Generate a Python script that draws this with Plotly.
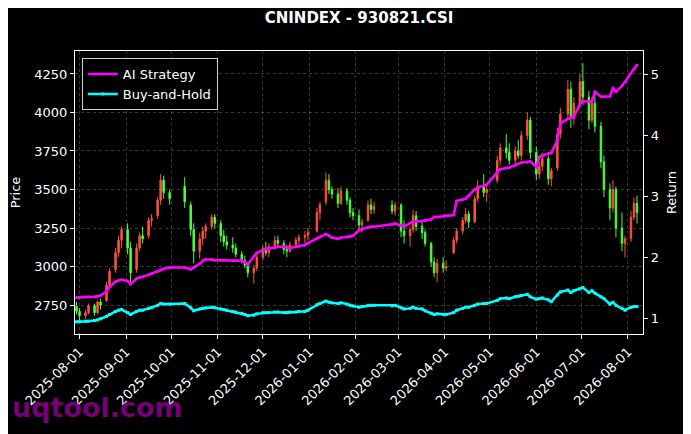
"""
Price candles with strategy / buy-and-hold return curves (CNINDEX 930821.CSI).
"""

import pandas as pd
import plotly.graph_objects as go
from plotly.subplots import make_subplots

TITLE = "CNINDEX - 930821.CSI"

# trading calendar: weekdays minus exchange holidays, every 2nd session
holidays = pd.to_datetime([
    "2025-10-01", "2025-10-02", "2025-10-03", "2025-10-06", "2025-10-07", "2025-10-08",
    "2026-01-01", "2026-01-02",
    "2026-02-16", "2026-02-17", "2026-02-18", "2026-02-19", "2026-02-20", "2026-02-23",
    "2026-04-06",
    "2026-05-01", "2026-05-04", "2026-05-05",
    "2026-06-19",
])
trade_days = pd.bdate_range("2025-07-30", "2026-08-10")
trade_days = trade_days[~trade_days.isin(holidays)]
dates = trade_days[::2]

open_px = [
    2740, 2710, 2680, 2700, 2745, 2700, 2770, 2780, 2880, 2980,
    3090, 3170, 3240, 3120, 2980, 3120, 3200, 3200, 3300, 3330,
    3430, 3560, 3480, 3520, 3400, 3240, 3100, 3180, 3230, 3260,
    3320, 3280, 3200, 3160, 3140, 3120, 3080, 3040, 3010, 2960,
    2990, 3060, 3120, 3090, 3130, 3170, 3150, 3110, 3100, 3140,
    3170, 3190, 3200, 3230, 3350, 3420, 3560, 3500, 3470, 3410,
    3490, 3430, 3350, 3330, 3270, 3300, 3400, 3370, 3400, 3360,
    3400, 3230, 3200, 3240, 3330, 3260, 3220, 3150, 3030, 2960,
    3020, 2990, 3090, 3170, 3230, 3300, 3340, 3290, 3440, 3520,
    3480, 3560, 3690, 3770, 3740, 3690, 3750, 3720, 3850, 3950,
    3740, 3600, 3650, 3700, 3570, 3640, 3860, 3990, 4150, 3960,
    4060, 4200, 4100, 3950, 4060, 3910, 3680, 3500, 3380, 3500,
    3250, 3150, 3180, 3320, 3410,
]
high_px = [
    2770, 2730, 2720, 2760, 2760, 2780, 2790, 2900, 2990, 3120,
    3200, 3260, 3280, 3160, 3150, 3220, 3260, 3320, 3340, 3450,
    3600, 3590, 3500, 3580, 3420, 3280, 3220, 3260, 3280, 3340,
    3340, 3300, 3240, 3200, 3190, 3150, 3100, 3070, 3030, 3010,
    3080, 3140, 3160, 3150, 3200, 3200, 3170, 3140, 3160, 3190,
    3210, 3230, 3250, 3380, 3420, 3610, 3600, 3520, 3510, 3520,
    3510, 3450, 3380, 3370, 3310, 3430, 3440, 3420, 3430, 3420,
    3410, 3300, 3260, 3370, 3360, 3300, 3240, 3160, 3060, 3050,
    3060, 3040, 3190, 3250, 3320, 3380, 3360, 3460, 3560, 3600,
    3540, 3720, 3800, 3860, 3800, 3780, 3820, 3880, 4000, 3970,
    3780, 3680, 3740, 3720, 3640, 3900, 4030, 4210, 4200, 4100,
    4250, 4320, 4140, 4100, 4120, 3940, 3720, 3540, 3560, 3520,
    3350, 3200, 3360, 3450, 3460,
]
low_px = [
    2690, 2650, 2660, 2690, 2680, 2690, 2720, 2770, 2860, 2960,
    3060, 3120, 3080, 2900, 2960, 3100, 3150, 3180, 3260, 3310,
    3400, 3440, 3400, 3380, 3200, 3020, 3050, 3140, 3180, 3240,
    3250, 3160, 3130, 3110, 3090, 3060, 3020, 2990, 2930, 2890,
    2970, 3040, 3070, 3060, 3110, 3120, 3080, 3060, 3090, 3120,
    3140, 3150, 3170, 3220, 3300, 3400, 3470, 3440, 3380, 3400,
    3400, 3320, 3300, 3230, 3220, 3290, 3340, 3340, 3340, 3330,
    3190, 3150, 3130, 3220, 3230, 3180, 3130, 3000, 2930, 2900,
    2960, 2970, 3080, 3150, 3210, 3280, 3250, 3280, 3420, 3450,
    3420, 3540, 3660, 3700, 3660, 3650, 3700, 3690, 3820, 3700,
    3560, 3570, 3620, 3530, 3520, 3620, 3830, 3950, 3900, 3920,
    4030, 4050, 3890, 3930, 3870, 3640, 3450, 3300, 3350, 3190,
    3100, 3060, 3160, 3300, 3280,
]
close_px = [
    2710, 2680, 2700, 2745, 2700, 2770, 2750, 2880, 2970, 3090,
    3170, 3240, 3120, 2960, 3120, 3200, 3180, 3300, 3310, 3430,
    3560, 3480, 3440, 3420, 3240, 3100, 3180, 3230, 3260, 3320,
    3280, 3200, 3160, 3140, 3120, 3080, 3040, 3010, 2960, 2990,
    3060, 3120, 3090, 3130, 3170, 3150, 3110, 3100, 3140, 3170,
    3190, 3200, 3220, 3350, 3400, 3560, 3500, 3470, 3410, 3490,
    3430, 3350, 3330, 3270, 3290, 3400, 3370, 3390, 3360, 3400,
    3230, 3200, 3240, 3330, 3260, 3220, 3150, 3030, 2960, 3020,
    2990, 3000, 3170, 3230, 3300, 3340, 3290, 3440, 3520, 3480,
    3500, 3690, 3770, 3740, 3690, 3750, 3720, 3850, 3950, 3740,
    3600, 3650, 3700, 3570, 3620, 3860, 3990, 4150, 3960, 4060,
    4200, 4100, 3950, 4060, 3910, 3680, 3500, 3380, 3500, 3250,
    3150, 3180, 3320, 3410, 3350,
]

ai_return = [
    1.35, 1.35, 1.36, 1.36, 1.36, 1.37, 1.38, 1.45, 1.52, 1.61,
    1.63, 1.64, 1.62, 1.57, 1.66, 1.68, 1.69, 1.72, 1.74, 1.78,
    1.80, 1.82, 1.84, 1.84, 1.81, 1.84, 1.90, 1.95, 1.97, 1.97,
    1.96, 1.96, 1.96, 1.96, 1.95, 1.95, 1.95, 1.93, 1.89, 2.02,
    2.08, 2.13, 2.14, 2.15, 2.17, 2.18, 2.18, 2.17, 2.16, 2.18,
    2.19, 2.21, 2.24, 2.32, 2.34, 2.39, 2.36, 2.33, 2.31, 2.33,
    2.34, 2.35, 2.36, 2.45, 2.47, 2.50, 2.51, 2.51, 2.55, 2.56,
    2.53, 2.51, 2.57, 2.59, 2.59, 2.60, 2.61, 2.63, 2.67, 2.67,
    2.68, 2.69, 2.70, 2.93, 2.95, 2.97, 3.02, 3.12, 3.15, 3.18,
    3.20, 3.40, 3.45, 3.47, 3.48, 3.52, 3.54, 3.56, 3.57, 3.58,
    3.49, 3.65, 3.68, 3.71, 3.72, 3.93, 4.20, 4.28, 4.30, 4.31,
    4.52, 4.56, 4.56, 4.56, 4.72, 4.64, 4.64, 4.65, 4.78, 4.72,
    4.82, 4.88, 5.03, 5.10, 5.16,
]
bh_return = [
    0.95, 0.95, 0.96, 0.96, 0.97, 0.98, 1.00, 1.04, 1.07, 1.12,
    1.14, 1.15, 1.10, 1.07, 1.12, 1.14, 1.14, 1.17, 1.18, 1.22,
    1.25, 1.24, 1.24, 1.25, 1.18, 1.13, 1.16, 1.17, 1.18, 1.19,
    1.18, 1.16, 1.15, 1.14, 1.12, 1.11, 1.09, 1.07, 1.05, 1.06,
    1.08, 1.10, 1.10, 1.10, 1.11, 1.11, 1.10, 1.10, 1.11, 1.11,
    1.12, 1.12, 1.14, 1.23, 1.25, 1.29, 1.27, 1.26, 1.25, 1.26,
    1.24, 1.22, 1.21, 1.19, 1.20, 1.22, 1.22, 1.22, 1.21, 1.22,
    1.18, 1.16, 1.17, 1.19, 1.17, 1.16, 1.13, 1.09, 1.07, 1.08,
    1.07, 1.07, 1.10, 1.14, 1.17, 1.19, 1.19, 1.22, 1.24, 1.25,
    1.25, 1.30, 1.33, 1.34, 1.33, 1.36, 1.37, 1.38, 1.40, 1.36,
    1.32, 1.33, 1.34, 1.31, 1.28, 1.39, 1.44, 1.47, 1.43, 1.46,
    1.49, 1.51, 1.43, 1.46, 1.42, 1.36, 1.33, 1.24, 1.27, 1.22,
    1.17, 1.14, 1.19, 1.20, 1.20,
]

month_ticks = pd.date_range("2025-08-01", "2026-08-01", freq="MS")
price_ticks = [2750, 3000, 3250, 3500, 3750, 4000, 4250]
return_ticks = [1, 2, 3, 4, 5]

assert len(dates) == len(close_px), f"dates {len(dates)} vs values {len(close_px)}"

UP = "#ff5040"
DOWN = "#4cff3a"
GRID = "rgba(140,140,140,0.4)"
FONT = "DejaVu Sans"

# page body adds an 8px margin, so the figure is drawn 8px smaller
FIG_W, FIG_H = 683, 426

fig = make_subplots(specs=[[{"secondary_y": True}]])

fig.add_trace(
    go.Candlestick(
        x=dates, open=open_px, high=high_px, low=low_px, close=close_px,
        increasing=dict(line=dict(color=UP, width=1), fillcolor=UP),
        decreasing=dict(line=dict(color=DOWN, width=1), fillcolor=DOWN),
        whiskerwidth=0, showlegend=False, name="Price",
    ),
    secondary_y=False,
)

fig.add_trace(
    go.Scatter(
        x=dates, y=ai_return, name="AI Strategy", mode="lines+markers",
        line=dict(color="#ff00ff", width=2.5),
        marker=dict(symbol="circle", size=3, color="#ff00ff"),
    ),
    secondary_y=True,
)
fig.add_trace(
    go.Scatter(
        x=dates, y=bh_return, name="Buy-and-Hold", mode="lines+markers",
        line=dict(color="#00ffff", width=2.5),
        marker=dict(symbol="square", size=3, color="#00ffff"),
    ),
    secondary_y=True,
)

fig.add_annotation(
    text="<b>uqtool.com</b>", xref="paper", yref="paper",
    x=-0.114, y=-0.26, xanchor="left", yanchor="middle", showarrow=False,
    font=dict(family=FONT, size=27, color="rgba(135,0,135,0.9)"),
)

fig.update_layout(
    width=FIG_W, height=FIG_H,
    paper_bgcolor="black", plot_bgcolor="black",
    margin=dict(l=67, r=48, t=43, b=100, autoexpand=False),
    font=dict(family=FONT, color="white", size=13),
    title=dict(
        text=f"<b>{TITLE}</b>", x=0.5, xref="paper", xanchor="center",
        y=1 - 10 / FIG_H, yref="container", yanchor="middle",
        font=dict(family=FONT, size=15, color="white"),
    ),
    legend=dict(
        x=0.012, y=0.975, xanchor="left", yanchor="top",
        bgcolor="black", bordercolor="#d0d0d0", borderwidth=1,
        font=dict(family=FONT, size=13, color="white"),
        tracegroupgap=0,
    ),
    hovermode=False,
)

fig.update_xaxes(
    type="date", range=["2025-07-29", "2026-08-11"], domain=[0, 1],
    tickvals=month_ticks, tickformat="%Y-%m-%d", tickangle=-45,
    tickfont=dict(size=13), rangeslider_visible=False, automargin=False,
    showgrid=True, gridcolor=GRID, griddash="3px,3px", gridwidth=0.6,
    showline=True, linecolor="white", linewidth=1.2, mirror=True,
    ticks="outside", tickcolor="white", ticklen=4,
    zeroline=False,
)
fig.update_yaxes(
    range=[2562, 4399], tickvals=price_ticks, automargin=False,
    title=dict(text="Price", standoff=10, font=dict(size=13)),
    showgrid=True, gridcolor=GRID, griddash="3px,3px", gridwidth=0.6,
    showline=True, linecolor="white", linewidth=1.2, mirror=True,
    ticks="outside", tickcolor="white", ticklen=4, zeroline=False,
    secondary_y=False,
)
fig.update_yaxes(
    range=[0.75, 5.39], tickvals=return_ticks, automargin=False,
    title=dict(text="Return", standoff=8, font=dict(size=13)),
    showgrid=False, showline=True, linecolor="white", linewidth=1.2,
    ticks="outside", tickcolor="white", ticklen=4, zeroline=False,
    secondary_y=True,
)

fig.write_html("out.html")
